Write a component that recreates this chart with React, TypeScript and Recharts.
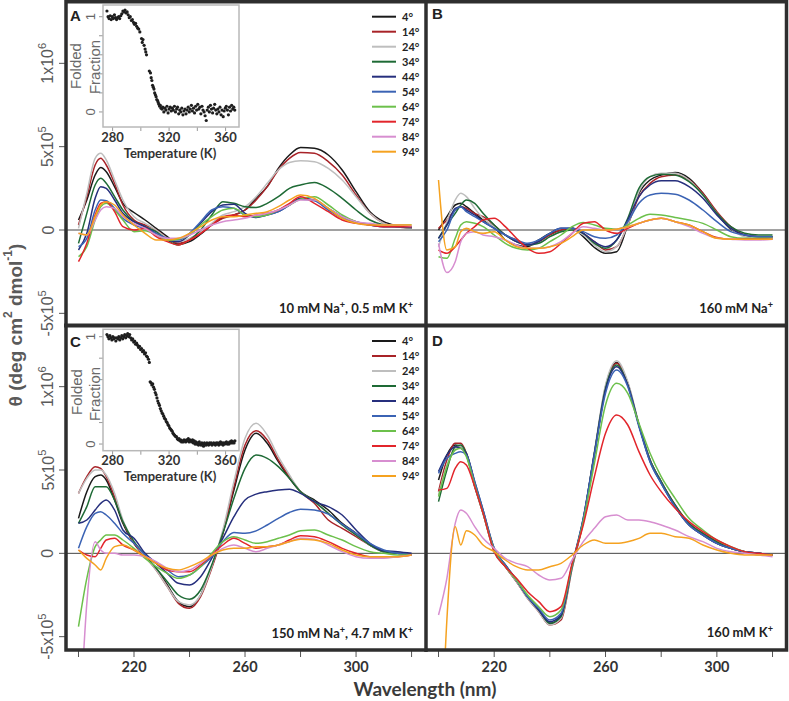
import React from 'react';
import { LineChart, Line, XAxis, YAxis, ReferenceLine, ScatterChart, Scatter } from 'recharts';

// Wavelength grid (nm)
const WAVELENGTH = [200, 203, 206, 208, 210, 213, 216, 220, 224, 228, 232, 236, 240, 244, 248, 252, 256, 260, 264, 268, 272, 276, 280, 285, 290, 295, 300, 305, 310, 315, 320];
const TEMP_LABELS = ['4°', '14°', '24°', '34°', '44°', '54°', '64°', '74°', '84°', '94°'];
const SERIES_COLORS = ['#1a1a1a', '#a82328', '#bebebe', '#1e6a35', '#262f7d', '#3b63b4', '#6cc04b', '#e2252b', '#d78ed0', '#f5a220'];

// Ellipticity, units of 1e5 deg cm2 dmol-1
// Panel A: 10 mM Na+, 0.5 mM K+
const A_4 = [0.6, 1.8, 3.3, 3.75, 3.5, 2.6, 1.6, 1.05, 0.6, 0.1, -0.4, -0.85, -0.7, -0.25, 0.3, 0.75, 0.9, 1.2, 1.9, 2.6, 3.7, 4.5, 4.95, 4.9, 4.5, 3.6, 2.3, 1.1, 0.5, 0.25, 0.1];
const A_14 = [0.3, 2.0, 3.9, 4.3, 3.9, 2.8, 1.5, 0.6, 0.3, 0.0, -0.5, -0.8, -0.6, -0.2, 0.3, 0.7, 0.9, 1.2, 1.8, 2.6, 3.6, 4.3, 4.65, 4.6, 4.1, 3.3, 2.1, 1.0, 0.4, 0.2, 0.1];
const A_24 = [0.1, 2.2, 4.3, 4.6, 4.2, 3.0, 1.8, 0.8, 0.4, 0.0, -0.5, -0.7, -0.5, -0.1, 0.4, 0.9, 1.1, 1.4, 2.0, 2.8, 3.6, 4.05, 4.15, 4.1, 3.7, 3.0, 2.0, 1.0, 0.4, 0.2, 0.1];
const A_34 = [-0.8, 1.0, 2.7, 3.1, 2.8, 2.0, 1.2, 0.5, 0.2, -0.1, -0.6, -0.9, -0.6, 0.0, 0.9, 1.7, 1.6, 1.4, 1.35, 1.6, 2.0, 2.5, 2.7, 2.85, 2.5, 1.9, 1.2, 0.6, 0.3, 0.2, 0.15];
const A_44 = [-1.2, -0.2, 1.9, 2.6, 2.5, 1.8, 1.0, 0.5, 0.2, -0.2, -0.6, -0.7, -0.3, 0.4, 1.1, 1.5, 1.55, 1.0, 0.75, 0.9, 1.1, 1.5, 1.9, 1.8, 1.3, 0.8, 0.5, 0.3, 0.2, 0.2, 0.15];
const A_54 = [-1.0, -0.5, 1.2, 1.8, 1.75, 1.3, 0.7, 0.3, 0.1, -0.2, -0.5, -0.6, -0.2, 0.5, 1.2, 1.4, 1.3, 0.9, 0.8, 0.9, 1.1, 1.5, 1.85, 1.75, 1.2, 0.7, 0.45, 0.3, 0.2, 0.2, 0.2];
const A_64 = [-1.6, -1.0, 0.6, 1.4, 1.6, 1.2, 0.6, -0.1, -0.05, -0.3, -0.6, -0.55, -0.3, 0.3, 0.8, 1.2, 1.3, 0.9, 0.8, 0.9, 1.2, 1.5, 1.85, 2.0, 1.5, 0.9, 0.5, 0.35, 0.3, 0.3, 0.3];
const A_74 = [-1.9, -0.8, 0.9, 1.6, 1.7, 1.1, 0.2, 0.0, 0.1, -0.4, -0.7, -0.9, -0.6, -0.2, 0.3, 0.8, 0.9, 0.8, 0.9, 1.0, 1.2, 1.6, 2.0, 1.6, 1.1, 0.6, 0.4, 0.3, 0.2, 0.2, 0.2];
const A_84 = [-0.2, -0.3, 0.6, 1.2, 1.4, 1.3, 0.8, 0.4, 0.1, -0.3, -0.5, -0.5, -0.3, 0.0, 0.3, 0.5, 0.6, 0.7, 0.9, 1.0, 1.2, 1.5, 1.8, 1.8, 1.3, 0.8, 0.5, 0.4, 0.3, 0.3, 0.25];
const A_94 = [-0.2, -0.3, 0.8, 1.5, 1.7, 1.5, 0.9, 0.3, -0.2, -0.6, -0.6, -0.5, -0.2, 0.2, 0.6, 0.8, 0.8, 0.9, 1.0, 1.1, 1.4, 1.8, 2.1, 1.9, 1.3, 0.7, 0.4, 0.3, 0.3, 0.3, 0.3];

// Panel B: 160 mM Na+
const B_4 = [0.0, 0.8, 1.5, 1.6, 1.4, 1.0, 0.6, 0.2, -0.6, -0.9, -1.0, -0.6, -0.2, -0.05, 0.1, -0.4, -1.05, -1.4, -1.3, 0.3, 2.2, 3.0, 3.3, 3.45, 3.1, 2.2, 1.0, 0.05, -0.3, -0.4, -0.4];
const B_14 = [0.1, 0.6, 1.2, 1.4, 1.3, 1.0, 0.8, 0.3, -0.3, -0.6, -0.9, -0.7, -0.3, 0.0, 0.1, -0.2, -0.7, -1.2, -1.0, 0.3, 2.0, 2.8, 3.2, 3.3, 3.0, 2.2, 1.1, 0.2, -0.3, -0.4, -0.45];
const B_24 = [-1.0, 0.5, 1.8, 2.2, 2.0, 1.3, 0.7, 0.2, -0.3, -0.7, -0.9, -0.8, -0.4, -0.1, 0.0, -0.3, -0.9, -1.3, -1.0, 0.3, 2.3, 3.2, 3.4, 3.4, 3.0, 2.1, 1.0, 0.1, -0.4, -0.5, -0.5];
const B_34 = [-0.5, 0.3, 1.0, 1.5, 1.8, 1.6, 1.0, 0.3, -0.3, -0.7, -0.9, -0.8, -0.4, -0.1, 0.0, -0.2, -0.8, -1.1, -0.6, 0.7, 2.5, 3.2, 3.35, 3.3, 2.9, 2.1, 1.0, 0.2, -0.2, -0.3, -0.3];
const B_44 = [-0.5, 0.3, 1.3, 1.4, 1.2, 0.9, 0.5, 0.1, -0.3, -0.7, -0.9, -0.7, -0.2, 0.1, 0.1, -0.2, -0.7, -1.0, -0.6, 0.6, 2.0, 2.7, 2.95, 2.95, 2.6, 1.9, 0.9, 0.1, -0.3, -0.4, -0.4];
const B_54 = [-0.7, 0.0, 1.2, 1.4, 1.1, 0.8, 0.5, 0.1, -0.3, -0.6, -0.8, -0.6, -0.2, 0.1, 0.1, -0.1, -0.4, -0.5, -0.3, 0.5, 1.6, 2.1, 2.2, 2.15, 1.8, 1.2, 0.5, -0.1, -0.3, -0.4, -0.4];
const B_64 = [-1.6, -1.7, -0.5, 0.3, 0.5, 0.4, 0.2, -0.3, -0.8, -1.1, -1.2, -1.1, -0.7, -0.3, 0.2, 0.45, 0.3, 0.1, 0.05, 0.3, 0.7, 0.95, 0.9, 0.75, 0.6, 0.4, 0.0, -0.4, -0.5, -0.5, -0.5];
const B_74 = [-1.2, -1.4, -1.0, -0.6, -0.2, 0.2, 0.6, 0.7, 0.2, -0.5, -1.1, -1.4, -1.3, -0.8, -0.2, 0.4, 0.5, 0.0, -0.2, 0.1, 0.4, 0.6, 0.7, 0.5, 0.3, -0.1, -0.45, -0.55, -0.55, -0.55, -0.55];
const B_84 = [-0.8, -2.55, -1.9, -0.7, -0.2, -0.1, -0.3, -0.4, -0.6, -0.9, -1.1, -1.1, -1.0, -0.7, -0.2, 0.2, 0.1, 0.0, 0.05, 0.2, 0.4, 0.6, 0.7, 0.5, 0.2, -0.2, -0.5, -0.55, -0.6, -0.6, -0.55];
const B_94 = [3.0, -1.2, -1.0, -0.1, 0.1, -0.1, -0.2, -0.1, -0.6, -1.0, -1.1, -1.1, -1.0, -0.8, -0.4, 0.0, 0.0, 0.0, 0.05, 0.2, 0.4, 0.6, 0.7, 0.5, 0.3, -0.1, -0.5, -0.55, -0.55, -0.55, -0.55];

// Panel C: 150 mM Na+, 4.7 mM K+
const C_4 = [2.1, 3.7, 4.6, 4.7, 4.4, 3.2, 1.8, 0.6, -0.2, -0.9, -1.9, -2.9, -3.2, -2.5, -0.8, 1.2, 3.8, 6.2, 7.2, 6.6, 5.5, 4.5, 3.7, 3.2, 2.6, 1.8, 1.2, 0.5, 0.1, 0.0, -0.1];
const C_14 = [3.6, 4.6, 5.2, 5.1, 4.6, 3.4, 1.9, 0.6, -0.2, -1.0, -2.0, -3.0, -3.3, -2.6, -0.9, 1.2, 4.0, 6.5, 7.35, 6.8, 5.6, 4.6, 3.7, 3.0, 2.0, 1.5, 1.0, 0.5, 0.1, 0.0, -0.1];
const C_24 = [3.6, 4.5, 5.0, 5.0, 4.7, 3.6, 2.0, 0.7, -0.2, -1.0, -2.0, -2.9, -3.1, -2.5, -0.8, 1.4, 4.3, 6.9, 7.8, 7.1, 5.8, 4.7, 3.7, 3.1, 2.4, 1.7, 1.1, 0.5, 0.1, 0.0, -0.1];
const C_34 = [1.8, 2.8, 4.0, 4.0, 4.0, 3.2, 1.9, 0.7, -0.1, -0.9, -1.7, -2.5, -2.75, -2.2, -0.7, 1.2, 3.3, 5.1, 5.9, 5.7, 5.2, 4.5, 3.7, 3.1, 2.4, 1.7, 1.1, 0.5, 0.1, 0.0, -0.1];
const C_44 = [1.8, 2.0, 2.6, 3.0, 3.2, 2.6, 1.4, 0.9, 0.0, -0.6, -1.2, -1.8, -1.9, -1.4, -0.3, 0.9, 2.2, 3.2, 3.55, 3.7, 3.8, 3.85, 3.6, 3.1, 2.8, 2.3, 1.4, 0.6, 0.15, 0.1, 0.0];
const C_54 = [0.3, 1.6, 2.4, 2.5, 2.3, 1.8, 1.2, 0.6, -0.1, -0.6, -1.0, -1.4, -1.3, -0.8, -0.2, 0.7, 1.25, 1.2, 1.35, 1.7, 2.1, 2.45, 2.65, 2.6, 2.35, 1.75, 1.2, 0.6, 0.2, 0.0, -0.1];
const C_64 = [-4.4, -1.5, 0.4, 0.8, 1.1, 1.1, 0.8, 0.3, -0.3, -0.8, -1.2, -1.5, -1.3, -0.8, 0.0, 0.7, 1.0, 0.8, 0.6, 0.7, 0.9, 1.1, 1.35, 1.4, 1.1, 0.8, 0.4, 0.1, 0.0, -0.1, -0.1];
const C_74 = [0.2, -0.1, -0.2, 0.3, 0.8, 0.9, 0.5, 0.2, -0.2, -0.6, -1.0, -1.1, -1.1, -0.7, -0.1, 0.5, 0.9, 0.6, 0.3, 0.4, 0.5, 0.8, 1.05, 1.0, 0.7, 0.3, 0.0, -0.2, -0.2, -0.2, -0.1];
const C_84 = [-12.0, -3.0, 0.7, 0.2, 0.0, 0.0, -0.1, -0.1, -0.2, -0.5, -0.9, -1.1, -1.0, -0.6, -0.1, 0.3, 0.5, 0.3, 0.1, 0.3, 0.5, 0.7, 0.9, 0.85, 0.5, 0.1, -0.2, -0.3, -0.3, -0.2, -0.1];
const C_94 = [0.2, -0.3, -0.7, -1.0, -0.3, 0.4, 0.5, 0.2, -0.2, -0.6, -0.9, -1.0, -0.8, -0.5, -0.1, 0.2, 0.3, 0.3, 0.4, 0.4, 0.5, 0.7, 0.85, 0.8, 0.6, 0.2, -0.1, -0.2, -0.2, -0.2, -0.1];

// Panel D: 160 mM K+
const D_4 = [4.4, 5.9, 6.5, 6.4, 5.9, 4.0, 2.4, 0.1, -0.8, -1.7, -2.6, -3.4, -4.2, -3.8, -0.8, 2.0, 6.0, 10.0, 11.45, 10.2, 7.7, 5.6, 4.3, 2.8, 1.7, 1.1, 0.6, 0.3, 0.1, 0.0, -0.1];
const D_14 = [3.7, 5.6, 6.6, 6.6, 6.0, 4.2, 2.5, 0.2, -0.8, -1.7, -2.7, -3.5, -4.3, -4.0, -0.9, 1.9, 5.9, 9.9, 11.4, 10.2, 7.7, 5.6, 4.3, 2.9, 1.8, 1.2, 0.7, 0.3, 0.1, 0.0, -0.1];
const D_24 = [3.5, 5.3, 6.3, 6.4, 5.9, 4.1, 2.4, 0.1, -0.8, -1.7, -2.7, -3.5, -4.3, -3.9, -0.9, 2.0, 6.1, 10.1, 11.55, 10.3, 7.8, 5.6, 4.3, 2.8, 1.7, 1.1, 0.6, 0.3, 0.1, 0.0, -0.1];
const D_34 = [3.1, 5.0, 6.4, 6.5, 6.0, 4.2, 2.5, 0.2, -0.7, -1.6, -2.6, -3.4, -4.2, -3.8, -0.8, 2.0, 6.0, 9.9, 11.3, 10.1, 7.7, 5.6, 4.3, 2.9, 1.8, 1.2, 0.7, 0.3, 0.1, 0.0, -0.1];
const D_44 = [4.9, 5.9, 6.4, 6.3, 6.0, 4.3, 2.6, 0.3, -0.7, -1.6, -2.6, -3.4, -4.1, -3.7, -0.7, 2.1, 6.0, 9.8, 11.2, 10.1, 7.7, 5.5, 4.2, 2.8, 1.7, 1.1, 0.6, 0.3, 0.1, 0.0, -0.1];
const D_54 = [4.8, 5.7, 6.0, 6.1, 5.9, 4.3, 2.6, 0.3, -0.7, -1.6, -2.6, -3.3, -4.0, -3.6, -0.7, 2.1, 5.9, 9.6, 11.0, 10.0, 7.6, 5.5, 4.2, 2.8, 1.7, 1.1, 0.6, 0.3, 0.1, 0.0, -0.1];
const D_64 = [3.4, 5.2, 6.2, 6.3, 5.8, 4.1, 2.4, 0.2, -0.8, -1.6, -2.5, -3.2, -3.8, -3.4, -0.7, 1.9, 5.4, 8.9, 10.2, 9.6, 7.8, 6.0, 4.6, 3.3, 2.1, 1.4, 0.8, 0.4, 0.1, -0.1, -0.1];
const D_74 = [3.8, 3.9, 5.1, 5.5, 5.3, 4.0, 2.4, 0.1, -0.8, -1.5, -2.3, -2.9, -3.5, -3.2, -0.6, 1.7, 4.6, 7.2, 8.3, 7.7, 6.1, 4.7, 3.7, 2.7, 1.9, 1.3, 0.8, 0.4, 0.1, 0.0, -0.1];
const D_84 = [-3.7, -1.5, 1.8, 2.6, 2.4, 1.6, 0.9, 0.3, -0.3, -0.6, -0.8, -1.3, -1.6, -1.5, -0.4, 0.7, 1.5, 2.2, 2.3, 2.0, 2.0, 1.9, 1.7, 1.4, 1.0, 0.7, 0.3, 0.1, 0.0, -0.1, -0.2];
const D_94 = [-16.0, -4.0, 1.6, 0.5, 1.35, 1.1, 0.5, 0.1, -0.4, -0.8, -1.0, -1.0, -0.8, -0.6, -0.1, 0.5, 0.8, 0.6, 0.6, 0.7, 0.9, 1.2, 1.2, 1.0, 0.9, 0.5, 0.2, 0.0, -0.1, -0.1, -0.1];

const PANEL_A = [A_4, A_14, A_24, A_34, A_44, A_54, A_64, A_74, A_84, A_94];
const PANEL_B = [B_4, B_14, B_24, B_34, B_44, B_54, B_64, B_74, B_84, B_94];
const PANEL_C = [C_4, C_14, C_24, C_34, C_44, C_54, C_64, C_74, C_84, C_94];
const PANEL_D = [D_4, D_14, D_24, D_34, D_44, D_54, D_64, D_74, D_84, D_94];

// Inset melting curves: [temperature K, folded fraction]
const MELT_A = [[276.0,1.06],[276.8,1.0],[277.5,0.98],[278.3,1.01],[279.0,0.97],[279.8,1.0],[280.5,0.98],[281.3,1.02],[282.0,0.99],[282.8,0.97],[283.5,0.99],[284.3,1.0],[285.0,0.98],[285.8,1.01],[286.5,1.03],[287.3,1.06],[288.0,1.05],[288.8,1.07],[289.5,1.04],[290.3,1.05],[291.0,1.02],[291.8,0.99],[292.5,1.0],[293.3,0.96],[294.0,0.97],[294.8,0.94],[295.5,0.92],[296.3,0.93],[297.0,0.9],[297.8,0.88],[298.5,0.87],[299.3,0.84],[300.5,0.77],[301.0,0.73],[301.5,0.76],[302.3,0.7],[303.0,0.66],[303.5,0.63],[304.0,0.6],[306.0,0.43],[306.8,0.41],[307.3,0.36],[307.8,0.33],[308.3,0.28],[308.8,0.26],[309.3,0.24],[309.8,0.2],[310.3,0.18],[310.8,0.16],[311.3,0.13],[311.8,0.12],[312.3,0.1],[312.8,0.08],[313.3,0.06],[313.8,0.07],[314.3,0.04],[315.0,0.03],[315.5,0.05],[316.3,0.0],[317.0,0.04],[317.8,0.02],[318.5,0.06],[319.3,-0.01],[320.0,0.03],[320.8,0.05],[321.5,0.01],[322.3,0.04],[323.0,0.02],[323.8,0.06],[324.5,0.0],[325.3,0.03],[326.0,0.05],[326.8,-0.02],[327.5,0.02],[328.3,0.0],[329.0,0.04],[329.8,-0.03],[330.5,0.01],[331.3,0.03],[332.0,-0.02],[332.8,0.02],[333.5,0.05],[334.3,0.0],[335.0,0.03],[335.8,0.07],[336.5,0.01],[337.3,0.04],[338.0,-0.01],[338.8,0.06],[339.5,0.02],[340.3,0.08],[341.0,0.03],[341.8,0.05],[342.5,-0.02],[343.3,0.06],[344.0,0.02],[344.8,0.0],[345.5,-0.04],[346.3,-0.09],[347.0,0.02],[347.8,0.05],[348.5,0.0],[349.3,0.07],[350.0,0.03],[350.8,-0.01],[351.5,0.04],[352.3,0.08],[353.0,0.02],[353.8,-0.02],[354.5,0.03],[355.3,0.0],[356.0,0.05],[356.8,-0.03],[357.5,0.02],[358.3,-0.05],[359.0,0.01],[359.8,0.04],[360.5,0.06],[361.3,0.02],[362.0,-0.03],[362.8,0.05],[363.5,0.01],[364.3,0.07],[365.0,0.03],[365.8,0.05],[366.5,0.02]];
const MELT_C = [[276.0,1.02],[276.7,1.0],[277.4,0.98],[278.1,1.01],[278.8,0.99],[279.5,0.97],[280.2,1.0],[280.9,0.98],[281.6,0.99],[282.3,0.96],[283.0,0.99],[283.7,0.98],[284.4,1.0],[285.1,0.97],[285.8,0.99],[286.5,1.01],[287.2,0.98],[287.9,1.0],[288.6,1.02],[289.3,0.99],[290.0,1.01],[290.7,1.03],[291.4,1.0],[292.1,1.02],[292.8,0.99],[293.5,0.97],[294.2,0.98],[294.9,0.95],[295.6,0.96],[296.3,0.93],[297.0,0.94],[297.7,0.92],[298.4,0.9],[299.1,0.91],[299.8,0.88],[300.5,0.89],[301.2,0.86],[301.9,0.87],[302.6,0.84],[303.3,0.85],[304.0,0.82],[304.7,0.81],[305.4,0.79],[306.0,0.76],[306.6,0.58],[307.2,0.57],[307.8,0.55],[308.4,0.56],[309.0,0.53],[309.6,0.51],[310.2,0.48],[310.8,0.46],[311.4,0.43],[312.0,0.4],[312.6,0.38],[313.2,0.36],[313.8,0.33],[314.4,0.31],[315.0,0.29],[315.6,0.28],[316.2,0.26],[316.8,0.24],[317.4,0.23],[318.0,0.21],[318.6,0.2],[319.2,0.18],[319.8,0.17],[320.4,0.15],[321.0,0.14],[321.6,0.13],[322.2,0.12],[322.8,0.1],[323.4,0.09],[324.0,0.08],[324.6,0.07],[325.2,0.07],[325.8,0.05],[326.4,0.04],[327.0,0.05],[327.6,0.03],[328.2,0.04],[328.8,0.02],[329.4,0.03],[330.0,0.02],[330.6,0.04],[331.2,0.03],[331.8,0.02],[332.4,0.04],[333.0,0.03],[333.6,0.05],[334.2,0.02],[334.8,0.04],[335.4,0.03],[336.0,0.02],[336.6,0.04],[337.2,0.01],[337.8,0.03],[338.4,0.0],[339.0,0.02],[339.6,0.0],[340.2,0.01],[340.8,-0.01],[341.4,0.02],[342.0,0.0],[342.6,-0.01],[343.2,0.01],[343.8,0.0],[344.4,-0.02],[345.0,0.01],[345.6,0.0],[346.2,-0.01],[346.8,0.01],[347.4,0.0],[348.0,-0.01],[348.6,0.01],[349.2,0.0],[349.8,0.01],[350.4,-0.01],[351.0,0.0],[351.6,0.01],[352.2,0.0],[352.8,-0.01],[353.4,0.01],[354.0,0.0],[354.6,0.01],[355.2,-0.01],[355.8,0.0],[356.4,0.02],[357.0,0.0],[357.6,0.01],[358.2,-0.01],[358.8,0.01],[359.4,0.0],[360.0,0.01],[360.6,0.02],[361.2,0.0],[361.8,0.01],[362.4,0.0],[363.0,0.02],[363.6,0.01],[364.2,0.03],[364.8,0.01],[365.4,0.02],[366.0,0.01],[366.6,0.03]];

const X_DOMAIN = [195.5, 325.2];
const X_TICKS = [200, 220, 240, 260, 280, 300, 320];
const X_LABELED = [220, 260, 300];
const Y_TICKS = [-5, 0, 5, 10];
const Y_DOMAIN_TOP = [-5.7, 13.68];
const Y_DOMAIN_BOTTOM = [-5.8, 13.7];
const INSET_X_DOMAIN = [273.2, 369.5];
const INSET_X_TICKS = [280, 300, 320, 340, 360];
const INSET_X_LABELED = [280, 320, 360];
const INSET_Y_TICKS = [0, 0.2, 0.4, 0.6, 0.8, 1];

const CAL = "Lato, 'Open Sans', sans-serif";
const ARIAL = "'Liberation Sans', Arial, sans-serif";

function buildRows(series: number[][]) {
  return WAVELENGTH.map((w, i) => {
    const row: any = { w };
    series.forEach((s, j) => { row['s' + j] = s[i]; });
    return row;
  });
}

const MainYTick = (props: any) => {
  const { y, payload } = props;
  const v = payload.value;
  const cx = 48;
  let base = '';
  let sup = '';
  if (v === 10) { base = '1x10'; sup = '6'; }
  else if (v === 5) { base = '5x10'; sup = '5'; }
  else if (v === 0) { base = '0'; }
  else if (v === -5) { base = '-5x10'; sup = '5'; }
  return (
    <text x={cx} y={y} transform={`rotate(-90, ${cx}, ${y})`} textAnchor="middle" dominantBaseline="central"
      fontFamily={ARIAL} fontSize={16} fill="#5a5a5a">
      {base}{sup ? <tspan dy={-6} fontSize={11}>{sup}</tspan> : null}
    </text>
  );
};

const MainXTick = (props: any) => {
  const { x, payload } = props;
  if (!X_LABELED.includes(payload.value)) return <g />;
  return (
    <text x={x} y={351.5} textAnchor="middle" fontFamily={CAL} fontWeight={700} fontSize={14.5} fill="#333">
      {payload.value}
    </text>
  );
};

function SpectraPanel(props: any) {
  const { series, left, top, width, height, margin, showX, showY, yDomain } = props;
  const rows = buildRows(series);
  return (
    <div style={{ position: 'absolute', left, top }}>
      <LineChart width={width} height={height} data={rows} margin={margin}>
        <XAxis dataKey="w" type="number" domain={X_DOMAIN} ticks={X_TICKS} interval={0} allowDataOverflow
          hide={!showX} height={51} axisLine={false} tickSize={7} tickLine={{ stroke: '#555' }}
          tick={(p: any) => <MainXTick {...p} />} />
        <YAxis type="number" domain={yDomain} ticks={Y_TICKS} interval={0} allowDataOverflow
          hide={!showY} width={66} axisLine={false} tickSize={7} tickLine={{ stroke: '#555' }}
          tick={(p: any) => <MainYTick {...p} />} />
        <ReferenceLine y={0} stroke="#444" strokeWidth={1} />
        {series.map((_s: number[], j: number) => (
          <Line key={j} dataKey={'s' + j} name={TEMP_LABELS[j]} stroke={SERIES_COLORS[j]} strokeWidth={1.5}
            dot={false} activeDot={false} type="monotone" isAnimationActive={false} />
        ))}
      </LineChart>
    </div>
  );
}

function MeltInset(props: any) {
  const { data, left, top, height, marginTop, yDomain, labelY } = props;
  const pts = data.map((d: number[]) => ({ t: d[0], f: d[1] }));
  const plotBottom = props.plotBottom;
  return (
    <div style={{ position: 'absolute', left, top }}>
      <ScatterChart width={205} height={height} margin={{ top: marginTop, right: 6, bottom: 0, left: 0 }}>
        <XAxis type="number" dataKey="t" domain={INSET_X_DOMAIN} ticks={INSET_X_TICKS} interval={0} allowDataOverflow
          axisLine={false} tickSize={4} tickLine={{ stroke: '#999' }} height={height - plotBottom}
          tick={(p: any) => INSET_X_LABELED.includes(p.payload.value) ? (
            <text x={p.x} y={labelY} textAnchor="middle" fontFamily={CAL} fontWeight={700} fontSize={13} fill="#333">{p.payload.value}</text>
          ) : <g />} />
        <YAxis type="number" dataKey="f" domain={yDomain} ticks={INSET_Y_TICKS} interval={0} allowDataOverflow
          axisLine={false} tickSize={4} tickLine={{ stroke: '#999' }} width={63}
          tick={(p: any) => (p.payload.value === 0 || p.payload.value === 1) ? (
            <text x={51} y={p.y} transform={`rotate(-90, 51, ${p.y})`} textAnchor="middle" dominantBaseline="central"
              fontFamily={ARIAL} fontSize={13} fill="#666">{p.payload.value}</text>
          ) : <g />} />
        <Scatter data={pts} isAnimationActive={false}
          shape={(s: any) => <circle cx={s.cx} cy={s.cy} r={1.6} fill="#1e1e1e" />} />
      </ScatterChart>
    </div>
  );
}

function Sup({ children }: any) {
  return <tspan dy={-5} fontSize="0.7em">{children}</tspan>;
}

export default function App() {
  const legendRowsA = TEMP_LABELS.map((_, i) => 16.7 + 15 * i);
  const legendRowsC = TEMP_LABELS.map((_, i) => 341 + 15 * i);
  return (
    <div style={{ position: 'absolute', left: 0, top: 0, width: 789, height: 701, background: '#fff', overflow: 'hidden' }}>
      <SpectraPanel series={PANEL_C} left={0} top={320} width={426} height={381}
        margin={{ top: 5, right: 0, bottom: 0, left: 0 }} showX={true} showY={true} yDomain={Y_DOMAIN_BOTTOM} />
      <SpectraPanel series={PANEL_D} left={426} top={320} width={361} height={381}
        margin={{ top: 5, right: 0, bottom: 0, left: 0 }} showX={true} showY={false} yDomain={Y_DOMAIN_BOTTOM} />
      <SpectraPanel series={PANEL_A} left={0} top={0} width={426} height={350}
        margin={{ top: 2, right: 0, bottom: 25, left: 0 }} showX={false} showY={true} yDomain={Y_DOMAIN_TOP} />
      <SpectraPanel series={PANEL_B} left={426} top={0} width={361} height={350}
        margin={{ top: 2, right: 0, bottom: 25, left: 0 }} showX={false} showY={false} yDomain={Y_DOMAIN_TOP} />

      <MeltInset data={MELT_A} left={40} top={0} height={165} marginTop={5} plotBottom={127}
        yDomain={[-0.158, 1.123]} labelY={141.5} />
      <MeltInset data={MELT_C} left={40} top={320} height={180} marginTop={9.3} plotBottom={130.7}
        yDomain={[-0.062, 1.069]} labelY={144.5} />

      <svg width={789} height={701} style={{ position: 'absolute', left: 0, top: 0, pointerEvents: 'none' }}>
        {/* frames */}
        <rect x={66} y={1.75} width={720.5} height={648.25} fill="none" stroke="#2e2e2e" strokeWidth={3.5} />
        <line x1={426} x2={426} y1={0} y2={652} stroke="#2e2e2e" strokeWidth={3.5} />
        <line x1={64} x2={788} y1={325.5} y2={325.5} stroke="#2e2e2e" strokeWidth={4} />
        {/* inset boxes */}
        <rect x={103} y={5} width={136} height={122} fill="none" stroke="#b8b8b8" strokeWidth={1.5} />
        <rect x={103} y={329.3} width={136} height={121.4} fill="none" stroke="#b8b8b8" strokeWidth={1.5} />

        {/* inset y labels */}
        {[[75, 66], [76, 392]].map(([x, y], k) => (
          <text key={'fo' + k} x={x} y={y} transform={`rotate(-90, ${x}, ${y})`} textAnchor="middle" dominantBaseline="central"
            fontFamily={ARIAL} fontSize={15} fill="#6a6a6a">Folded</text>
        ))}
        {[[94, 67], [94, 394]].map(([x, y], k) => (
          <text key={'fr' + k} x={x} y={y} transform={`rotate(-90, ${x}, ${y})`} textAnchor="middle" dominantBaseline="central"
            fontFamily={ARIAL} fontSize={15} fill="#6a6a6a">Fraction</text>
        ))}
        <text x={170} y={158} textAnchor="middle" fontFamily={CAL} fontWeight={700} fontSize={13} fill="#333">Temperature (K)</text>
        <text x={170} y={481} textAnchor="middle" fontFamily={CAL} fontWeight={700} fontSize={13} fill="#333">Temperature (K)</text>

        {/* legends */}
        {legendRowsA.map((y, i) => (
          <g key={'la' + i}>
            <line x1={372} x2={396} y1={y} y2={y} stroke={SERIES_COLORS[i]} strokeWidth={2} />
            <text x={402} y={y - 0.5} dominantBaseline="central" fontFamily={CAL} fontWeight={700} fontSize={11} fill="#222">{TEMP_LABELS[i]}</text>
          </g>
        ))}
        {legendRowsC.map((y, i) => (
          <g key={'lc' + i}>
            <line x1={372} x2={396} y1={y} y2={y} stroke={SERIES_COLORS[i]} strokeWidth={2} />
            <text x={402} y={y - 0.5} dominantBaseline="central" fontFamily={CAL} fontWeight={700} fontSize={11} fill="#222">{TEMP_LABELS[i]}</text>
          </g>
        ))}

        {/* panel letters */}
        <text x={70} y={20.5} fontFamily={ARIAL} fontWeight={700} fontSize={15} fill="#222">A</text>
        <text x={432} y={19} fontFamily={ARIAL} fontWeight={700} fontSize={15} fill="#222">B</text>
        <text x={70} y={347} fontFamily={ARIAL} fontWeight={700} fontSize={15} fill="#222">C</text>
        <text x={432} y={346} fontFamily={ARIAL} fontWeight={700} fontSize={15} fill="#222">D</text>

        {/* condition labels */}
        <text x={413} y={313} textAnchor="end" fontFamily={CAL} fontWeight={700} fontSize={13} fill="#222">
          10 mM Na<Sup>+</Sup><tspan dy={5}>, 0.5 mM K</tspan><Sup>+</Sup>
        </text>
        <text x={773} y={313} textAnchor="end" fontFamily={CAL} fontWeight={700} fontSize={13} fill="#222">
          160 mM Na<Sup>+</Sup>
        </text>
        <text x={413} y={638} textAnchor="end" fontFamily={CAL} fontWeight={700} fontSize={13} fill="#222">
          150 mM Na<Sup>+</Sup><tspan dy={5}>, 4.7 mM K</tspan><Sup>+</Sup>
        </text>
        <text x={773} y={637} textAnchor="end" fontFamily={CAL} fontWeight={700} fontSize={13} fill="#222">
          160 mM K<Sup>+</Sup>
        </text>

        {/* axis titles */}
        <text x={15} y={325} transform="rotate(-90, 15, 325)" textAnchor="middle" dominantBaseline="central"
          fontFamily={ARIAL} fontWeight={700} fontSize={19} fill="#5a5a5a">
          θ (deg cm<tspan dy={-7} fontSize={12}>2</tspan><tspan dy={7}> dmol</tspan><tspan dy={-7} fontSize={12}>-1</tspan><tspan dy={7}>)</tspan>
        </text>
        <text x={425} y={696} textAnchor="middle" fontFamily={CAL} fontWeight={700} fontSize={19} fill="#3a3a3a">
          Wavelength (nm)
        </text>
      </svg>
    </div>
  );
}
